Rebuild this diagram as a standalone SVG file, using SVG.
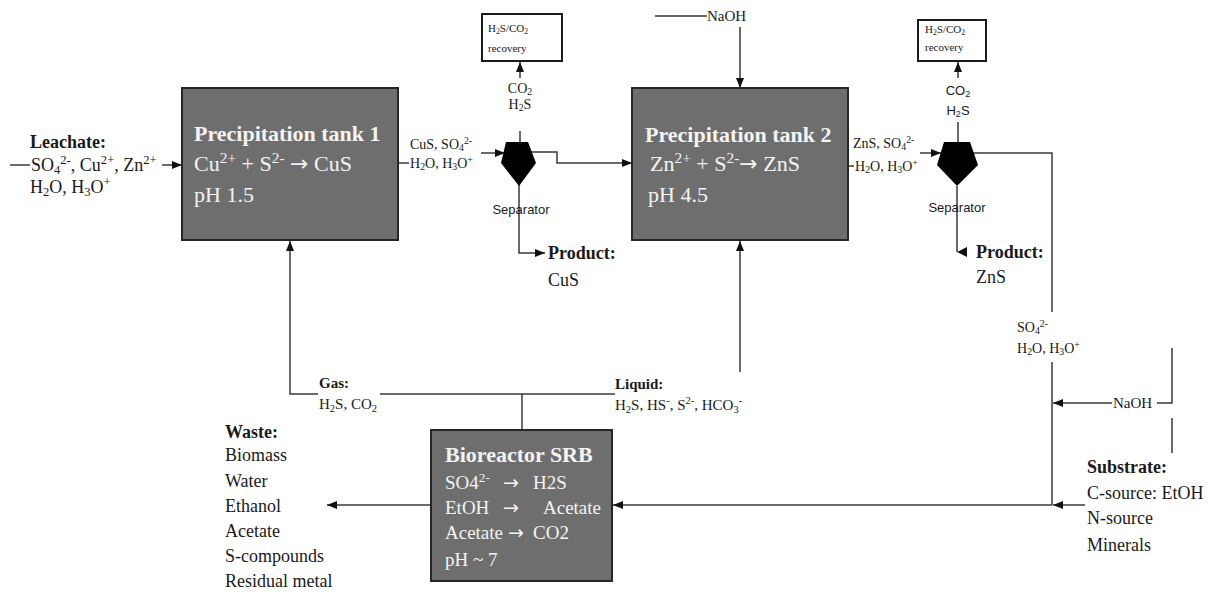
<svg xmlns="http://www.w3.org/2000/svg" width="1217" height="592" viewBox="0 0 1217 592">
<style>
text{font-family:"Liberation Serif","Times New Roman",serif;fill:#1a1a1a}
.tank{fill:#6e6e6e;stroke:#262626;stroke-width:2}
.tt{fill:#f4f4f4;font-size:22px}
.tb{font-weight:bold}
.ln{fill:none;stroke:#3a3a3a;stroke-width:1.5}
.ar{marker-end:url(#ah)}
.box{fill:#fff;stroke:#1a1a1a;stroke-width:2}
.s18{font-size:18px}
.s15{font-size:15px}
.s14{font-size:14px}
.s11{font-size:11px}
.sans{font-family:"Liberation Sans",Arial,sans-serif}
.sub{font-size:70%;baseline-shift:-0.25em}
.sup{font-size:70%;baseline-shift:0.55em}
.mid{text-anchor:middle}
.arw{font-family:"DejaVu Sans",sans-serif}
</style>
<defs>
<marker id="ah" markerUnits="userSpaceOnUse" markerWidth="10" markerHeight="8" refX="10" refY="4" orient="auto">
<path d="M0,0 L10,4 L0,8 z" fill="#111"/>
</marker>
</defs>

<g id="connectors">
<path class="ln" d="M10,165 H30"/>
<path class="ln ar" d="M162,165 H182"/>
<path class="ln" d="M398,163 H409"/>
<path class="ln ar" d="M481,153 H505"/>
<path class="ln" d="M520,142 V131"/>
<path class="ln ar" d="M520,78 V62"/>
<path class="ln ar" d="M519,152 H557 V163 H632"/>
<path class="ln ar" d="M519,185 V253 H545"/>
<path class="ln" d="M655,16 H707"/>
<path class="ln ar" d="M740,27 V88"/>
<path class="ln" d="M848,166 H854"/>
<path class="ln ar" d="M920,153 H941"/>
<path class="ln" d="M958,142 V122"/>
<path class="ln ar" d="M958,78 V62"/>
<path class="ln" d="M957,186 V252"/>
<polygon points="957,252 967,247 967,257" fill="#111"/>
<path class="ln" d="M958,153 H1052 V312"/>
<path class="ln" d="M1052,362 V505"/>
<path class="ln ar" d="M1112,403 H1053"/>
<path class="ln" d="M1157,403 H1172 V348"/>
<path class="ln" d="M1172,418 V453"/>
<path class="ln ar" d="M1085,505 H1053"/>
<path class="ln ar" d="M1052,505 H613"/>
<path class="ln ar" d="M430,505 H327"/>
<path class="ln ar" d="M318,394 H290 V241"/>
<path class="ln" d="M380,394 H615"/>
<path class="ln" d="M522,394 V430"/>
<path class="ln ar" d="M740,372 V241"/>
</g>

<g id="leachate">
<text x="30" y="148" class="s18 tb">Leachate:</text>
<text x="31" y="171" class="s18">SO<tspan class="sub">4</tspan><tspan class="sup">2-</tspan>, Cu<tspan class="sup">2+</tspan>, Zn<tspan class="sup">2+</tspan></text>
<text x="30" y="193" class="s18">H<tspan class="sub">2</tspan>O, H<tspan class="sub">3</tspan>O<tspan class="sup">+</tspan></text>
</g>

<g id="tank1">
<rect class="tank" x="182" y="88" width="216" height="152"/>
<text x="194" y="141" class="tt tb">Precipitation tank 1</text>
<text x="194" y="171" class="tt">Cu<tspan class="sup">2+</tspan> + S<tspan class="sup">2-</tspan> <tspan class="arw">→</tspan> CuS</text>
<text x="194" y="202" class="tt">pH 1.5</text>
</g>

<g id="stream1">
<text x="410" y="149" class="s14">CuS, SO<tspan class="sub">4</tspan><tspan class="sup">2-</tspan></text>
<text x="410" y="168" class="s14">H<tspan class="sub">2</tspan>O, H<tspan class="sub">3</tspan>O<tspan class="sup">+</tspan></text>
</g>

<g id="separator1">
<polygon points="506,142 528,142 536,163 519,186 501,163" fill="#000"/>
<text x="521" y="214" class="sans mid" style="font-size:13px">Separator</text>
<text x="520" y="93" class="s14 mid">CO<tspan class="sub">2</tspan></text>
<text x="520" y="109" class="s14 mid">H<tspan class="sub">2</tspan>S</text>
</g>

<g id="recovery1">
<rect class="box" x="482" y="14" width="80" height="47"/>
<text x="488" y="32" class="s11">H<tspan class="sub">2</tspan>S/CO<tspan class="sub">2</tspan></text>
<text x="488" y="52" class="s11">recovery</text>
</g>

<g id="product1">
<text x="548" y="259" class="s18 tb">Product:</text>
<text x="548" y="286" class="s18">CuS</text>
</g>

<g id="naoh1">
<text x="707" y="21" class="s15">NaOH</text>
</g>

<g id="tank2">
<rect class="tank" x="632" y="88" width="216" height="152"/>
<text x="645" y="142" class="tt tb">Precipitation tank 2</text>
<text x="650" y="171" class="tt">Zn<tspan class="sup">2+</tspan> + S<tspan class="sup">2-</tspan><tspan class="arw">→</tspan> ZnS</text>
<text x="648" y="202" class="tt">pH 4.5</text>
</g>

<g id="stream2">
<text x="853" y="148" class="s14">ZnS, SO<tspan class="sub">4</tspan><tspan class="sup">2-</tspan></text>
<text x="855" y="171" class="s14">H<tspan class="sub">2</tspan>O, H<tspan class="sub">3</tspan>O<tspan class="sup">+</tspan></text>
</g>

<g id="separator2">
<polygon points="944,142 970,142 978,165 957,186 937,165" fill="#000"/>
<text x="957" y="212" class="sans mid" style="font-size:13px">Separator</text>
<text x="958" y="95" class="sans mid" style="font-size:13px">CO<tspan class="sub">2</tspan></text>
<text x="958" y="115" class="sans mid" style="font-size:13px">H<tspan class="sub">2</tspan>S</text>
</g>

<g id="recovery2">
<rect class="box" x="918" y="20" width="68" height="41"/>
<text x="925" y="33" class="s11">H<tspan class="sub">2</tspan>S/CO<tspan class="sub">2</tspan></text>
<text x="925" y="51" class="s11">recovery</text>
</g>

<g id="product2">
<text x="976" y="258" class="s18 tb">Product:</text>
<text x="976" y="283" class="s18">ZnS</text>
</g>

<g id="stream3">
<text x="1017" y="332" class="s14">SO<tspan class="sub">4</tspan><tspan class="sup">2-</tspan></text>
<text x="1017" y="353" class="s14">H<tspan class="sub">2</tspan>O, H<tspan class="sub">3</tspan>O<tspan class="sup">+</tspan></text>
</g>

<g id="naoh2">
<text x="1113" y="408" class="s15">NaOH</text>
</g>

<g id="substrate">
<text x="1087" y="473" class="s18 tb">Substrate:</text>
<text x="1087" y="499" class="s18">C-source: EtOH</text>
<text x="1087" y="524" class="s18">N-source</text>
<text x="1087" y="551" class="s18">Minerals</text>
</g>

<g id="gas">
<text x="319" y="388" class="s15 tb">Gas:</text>
<text x="319" y="409" class="s15">H<tspan class="sub">2</tspan>S, CO<tspan class="sub">2</tspan></text>
</g>

<g id="liquid">
<text x="615" y="389" class="s15 tb">Liquid:</text>
<text x="615" y="410" class="s15">H<tspan class="sub">2</tspan>S, HS<tspan class="sup">-</tspan>, S<tspan class="sup">2-</tspan>, HCO<tspan class="sub">3</tspan><tspan class="sup">-</tspan></text>
</g>

<g id="bioreactor">
<rect class="tank" x="431" y="430" width="181" height="151"/>
<text x="445" y="462" class="tt tb">Bioreactor SRB</text>
<text x="445" y="489" class="tt" style="font-size:19px">SO4<tspan class="sup">2-</tspan></text>
<text x="503" y="489" class="tt arw" style="font-size:19px">→</text>
<text x="533" y="489" class="tt" style="font-size:19px">H2S</text>
<text x="445" y="514" class="tt" style="font-size:19px">EtOH</text>
<text x="503" y="514" class="tt arw" style="font-size:19px">→</text>
<text x="543" y="514" class="tt" style="font-size:19px">Acetate</text>
<text x="445" y="539" class="tt" style="font-size:19px">Acetate</text>
<text x="508" y="539" class="tt arw" style="font-size:19px">→</text>
<text x="533" y="539" class="tt" style="font-size:19px">CO2</text>
<text x="445" y="566" class="tt" style="font-size:19px">pH ~ 7</text>
</g>

<g id="waste">
<text x="225" y="438" class="s18 tb">Waste:</text>
<text x="225" y="461" class="s18">Biomass</text>
<text x="225" y="487" class="s18">Water</text>
<text x="225" y="512" class="s18">Ethanol</text>
<text x="225" y="537" class="s18">Acetate</text>
<text x="225" y="562" class="s18">S-compounds</text>
<text x="225" y="587" class="s18">Residual metal</text>
</g>
</svg>
